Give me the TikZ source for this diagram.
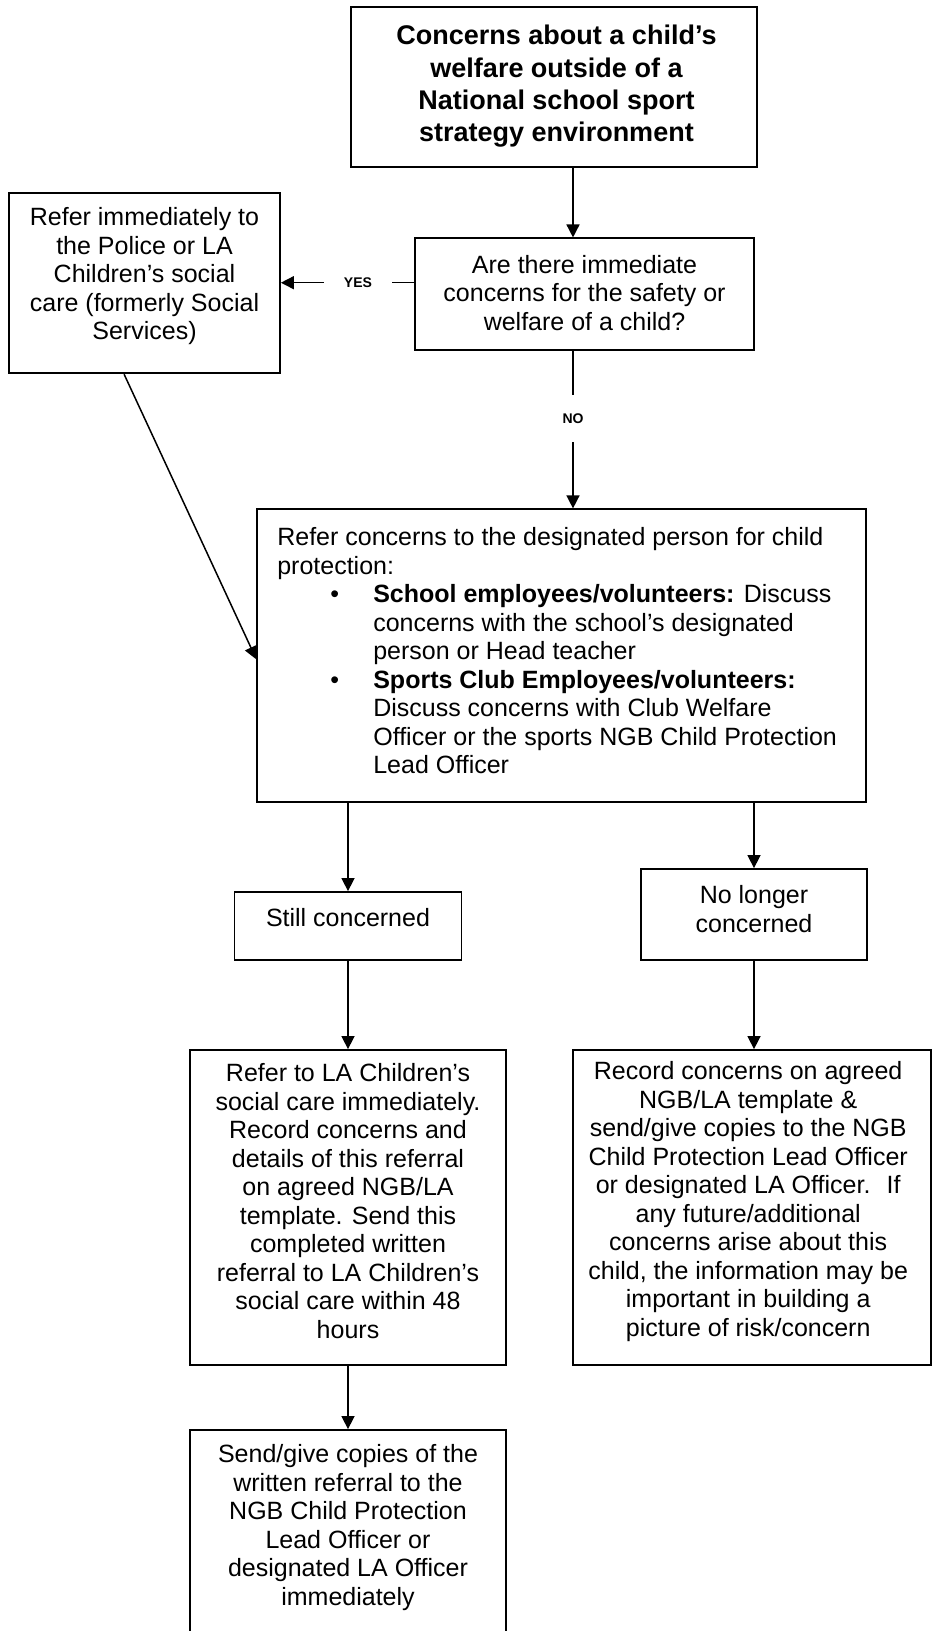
\documentclass[tikz,border=0pt]{standalone}
\usepackage{fontspec}
\setmainfont{Liberation Sans}
\usetikzlibrary{arrows.meta,calc}

\tikzset{
  box/.style={draw, line width=1.8pt, rectangle, inner sep=0pt},
  txt/.style={inner sep=0pt, align=center, font=\fontsize{25}{28.5}\selectfont},
  ttl/.style={inner sep=0pt, align=center, font=\fontsize{27}{32.3}\selectfont\bfseries},
  lbl/.style={inner ysep=0pt, font=\fontsize{14}{16}\selectfont\bfseries},
  link/.style={line width=1.5pt},
  arr/.style={line width=1.5pt, -{Triangle[length=13pt,width=13pt]}}
}

\begin{document}
\begin{tikzpicture}[x=1pt, y=-1pt]
\useasboundingbox (0,0) rectangle (932,1631);
\fill[white] (0,0) rectangle (932,1631);

% boxes
\node[box, minimum width=406.6pt, minimum height=159.4pt] (top) at (554,87) {};
\node[box, minimum width=271pt, minimum height=180pt] (ref) at (144.5,283.3) {};
\node[box, minimum width=339pt, minimum height=111.7pt] (q) at (584.5,294.2) {};
\node[box, minimum width=609pt, minimum height=292.4pt] (main) at (561.8,655.5) {};
\node[box, minimum width=227pt, minimum height=68pt] (still) at (348,926) {};
\node[box, minimum width=226pt, minimum height=91pt] (nolonger) at (754,914.5) {};
\node[box, minimum width=316pt, minimum height=315pt] (la) at (348,1207.5) {};
\node[box, minimum width=357.7pt, minimum height=315pt] (rec) at (752.2,1207.5) {};
\node[box, minimum width=316pt, minimum height=240pt] (last) at (348,1550) {};

% texts
\node[ttl] (ttop) at ($(top.center)+(2.5,-0.5)$) {Concerns about a child’s\\welfare outside of a\\National school sport\\strategy environment};
\node[txt] (tref) at ($(ref.center)+(0,-7)$) {Refer immediately to\\the Police or LA\\Children’s social\\care (formerly Social\\Services)};
\node[txt] (tq) at ($(q.center)+(0,-1.5)$) {Are there immediate\\concerns for the safety or\\welfare of a child?};
\node[txt, align=left, anchor=west] (tmain) at ($(main.west)+(20.7,-4.5)$) {%
Refer concerns to the designated person for child\\
protection:\\
\hspace*{53pt}\makebox[43pt][l]{•}\textbf{School employees/volunteers:} Discuss\\
\hspace*{96pt}concerns with the school’s designated\\
\hspace*{96pt}person or Head teacher\\
\hspace*{53pt}\makebox[43pt][l]{•}\textbf{Sports Club Employees/volunteers:}\\
\hspace*{96pt}Discuss concerns with Club Welfare\\
\hspace*{96pt}Officer or the sports NGB Child Protection\\
\hspace*{96pt}Lead Officer};
\node[txt] (tstill) at ($(still.center)+(0,-8)$) {Still concerned};
\node[txt] (tnolonger) at ($(nolonger.center)+(0,-5.5)$) {No longer\\concerned};
\node[txt] (tla) at ($(la.center)+(0,-6.5)$) {Refer to LA Children’s\\social care immediately.\\Record concerns and\\details of this referral\\on agreed NGB/LA\\template. Send this\\completed written\\referral to LA Children’s\\social care within 48\\hours};
\node[txt] (trec) at ($(rec.center)+(-4,-6)$) {Record concerns on agreed\\NGB/LA template \&\\send/give copies to the NGB\\Child Protection Lead Officer\\or designated LA Officer.~ If\\any future/additional\\concerns arise about this\\child, the information may be\\important in building a\\picture of risk/concern};
\node[txt] (tlast) at ($(last.north)+(0,98.5)$) {Send/give copies of the\\written referral to the\\NGB Child Protection\\Lead Officer or\\designated LA Officer\\immediately};

% branch labels
\node[lbl, minimum width=68pt, inner xsep=0pt] (yes) at (358,282.7) {YES};
\node[lbl, minimum height=47pt, inner xsep=0pt] (no) at (573,418.5) {NO};
\coordinate (spine) at (573,0);

% connectors
\draw[arr] (top.south -| spine) -- (q.north -| spine);
\draw[link] (q.west |- yes) -- (yes.east);
\draw[arr] (yes.west) -- (ref.east |- yes);
\draw[link] (q.south -| no) -- (no.north);
\draw[arr] (no.south) -- (main.north -| no);
\draw[arr] ($(ref.south west)+(116,0)$) -- ($(main.north west)+(0,151)$);
\draw[arr] (main.south -| still.north) -- (still.north);
\draw[arr] (main.south -| nolonger.north) -- (nolonger.north);
\draw[arr] (still.south) -- (la.north);
\draw[arr] (nolonger.south) -- (rec.north -| nolonger.south);
\draw[arr] (la.south) -- (last.north);
\end{tikzpicture}
\end{document}
